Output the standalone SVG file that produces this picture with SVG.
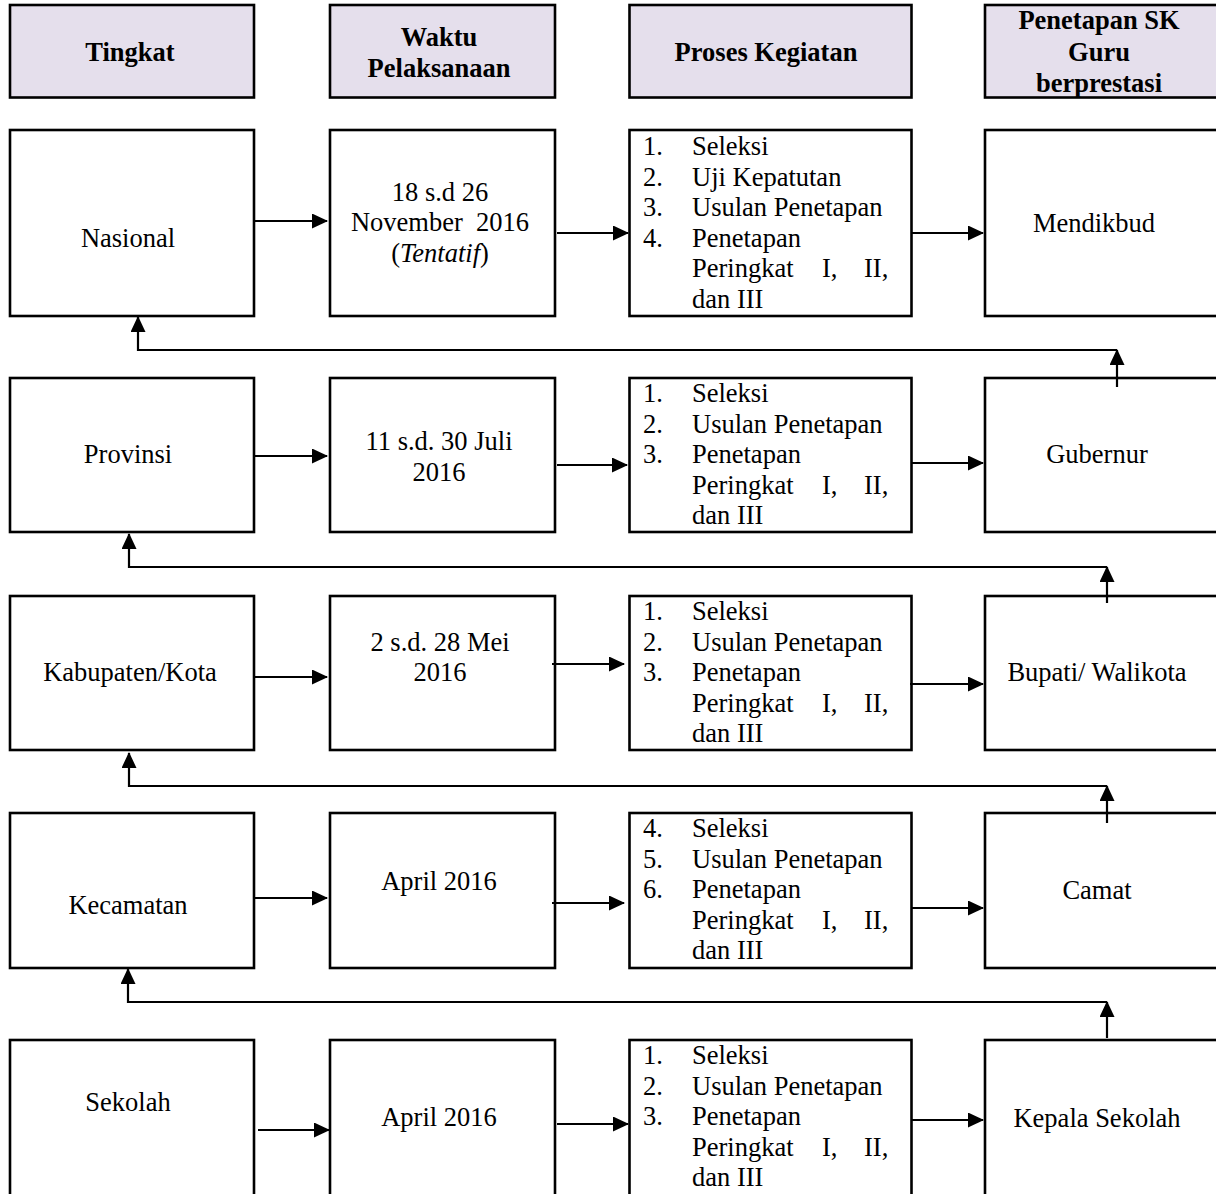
<svg xmlns="http://www.w3.org/2000/svg" width="1216" height="1194" viewBox="0 0 1216 1194">
<style>
  .box{fill:#fff;stroke:#000;stroke-width:2.6}
  .hdr{fill:#E5DFEC;stroke:#000;stroke-width:2.6}
  text{font-family:"Liberation Serif","Times New Roman",serif;font-size:26.5px;fill:#000}
  .c{text-anchor:middle}
  .b{font-weight:bold}
  .ln{fill:none;stroke:#000;stroke-width:2.2;marker-end:url(#ah)}
  .hl{fill:none;stroke:#000;stroke-width:2.2}
</style>
<defs>
  <marker id="ah" markerWidth="16" markerHeight="15" refX="15" refY="7.5" orient="auto" markerUnits="userSpaceOnUse">
    <path d="M0,0 L16,7.5 L0,15 Z" fill="#000"/>
  </marker>
</defs>

<g id="header">
  <g id="h-tingkat"><rect class="hdr" x="10" y="5" width="244" height="92.5"/><text class="c b" x="130" y="61">Tingkat</text></g>
  <g id="h-waktu"><rect class="hdr" x="330" y="5" width="225" height="92.5"/><text class="c b" x="439" y="46">Waktu</text><text class="c b" x="439" y="77">Pelaksanaan</text></g>
  <g id="h-proses"><rect class="hdr" x="629.5" y="5" width="282" height="92.5"/><text class="c b" x="766" y="61">Proses Kegiatan</text></g>
  <g id="h-sk"><rect class="hdr" x="985" y="5" width="240" height="92.5"/><text class="c b" x="1099" y="29">Penetapan SK</text><text class="c b" x="1099" y="61">Guru</text><text class="c b" x="1099" y="92">berprestasi</text></g>
</g>

<g id="row-nasional">
  <g id="n-tingkat"><rect class="box" x="10" y="130" width="244" height="186"/><text class="c" x="128" y="247">Nasional</text></g>
  <g id="n-waktu"><rect class="box" x="330" y="130" width="225" height="186"/><text class="c" x="440" y="201">18 s.d 26</text><text class="c" x="440" y="231" xml:space="preserve">November  2016</text><text class="c" x="440" y="262">(<tspan font-style="italic">Tentatif</tspan>)</text></g>
  <g id="n-proses"><rect class="box" x="629.5" y="130" width="282" height="186"/>
    <text x="643" y="155">1.</text><text x="692" y="155">Seleksi</text>
    <text x="643" y="185.5">2.</text><text x="692" y="185.5">Uji Kepatutan</text>
    <text x="643" y="216">3.</text><text x="692" y="216">Usulan Penetapan</text>
    <text x="643" y="246.5">4.</text><text x="692" y="246.5">Penetapan</text>
    <text y="277"><tspan x="692">Peringkat</tspan><tspan x="822">I,</tspan><tspan x="864">II,</tspan></text>
    <text x="692" y="307.5">dan III</text>
  </g>
  <g id="n-sk"><rect class="box" x="985" y="130" width="240" height="186"/><text class="c" x="1094" y="232">Mendikbud</text></g>
</g>

<g id="row-provinsi">
  <g id="p-tingkat"><rect class="box" x="10" y="378" width="244" height="154"/><text class="c" x="128" y="463">Provinsi</text></g>
  <g id="p-waktu"><rect class="box" x="330" y="378" width="225" height="154"/><text class="c" x="439" y="450">11 s.d. 30 Juli</text><text class="c" x="439" y="481">2016</text></g>
  <g id="p-proses"><rect class="box" x="629.5" y="378" width="282" height="154"/>
    <text x="643" y="402">1.</text><text x="692" y="402">Seleksi</text>
    <text x="643" y="432.5">2.</text><text x="692" y="432.5">Usulan Penetapan</text>
    <text x="643" y="463">3.</text><text x="692" y="463">Penetapan</text>
    <text y="493.5"><tspan x="692">Peringkat</tspan><tspan x="822">I,</tspan><tspan x="864">II,</tspan></text>
    <text x="692" y="524">dan III</text>
  </g>
  <g id="p-sk"><rect class="box" x="985" y="378" width="240" height="154"/><text class="c" x="1097" y="463">Gubernur</text></g>
</g>

<g id="row-kabupaten">
  <g id="k-tingkat"><rect class="box" x="10" y="596" width="244" height="154"/><text class="c" x="130" y="681">Kabupaten/Kota</text></g>
  <g id="k-waktu"><rect class="box" x="330" y="596" width="225" height="154"/><text class="c" x="440" y="651">2 s.d. 28 Mei</text><text class="c" x="440" y="681">2016</text></g>
  <g id="k-proses"><rect class="box" x="629.5" y="596" width="282" height="154"/>
    <text x="643" y="620">1.</text><text x="692" y="620">Seleksi</text>
    <text x="643" y="650.5">2.</text><text x="692" y="650.5">Usulan Penetapan</text>
    <text x="643" y="681">3.</text><text x="692" y="681">Penetapan</text>
    <text y="711.5"><tspan x="692">Peringkat</tspan><tspan x="822">I,</tspan><tspan x="864">II,</tspan></text>
    <text x="692" y="742">dan III</text>
  </g>
  <g id="k-sk"><rect class="box" x="985" y="596" width="240" height="154"/><text class="c" x="1097" y="681">Bupati/ Walikota</text></g>
</g>

<g id="row-kecamatan">
  <g id="c-tingkat"><rect class="box" x="10" y="813" width="244" height="155"/><text class="c" x="128" y="914">Kecamatan</text></g>
  <g id="c-waktu"><rect class="box" x="330" y="813" width="225" height="155"/><text class="c" x="439" y="890">April 2016</text></g>
  <g id="c-proses"><rect class="box" x="629.5" y="813" width="282" height="155"/>
    <text x="643" y="837">4.</text><text x="692" y="837">Seleksi</text>
    <text x="643" y="867.5">5.</text><text x="692" y="867.5">Usulan Penetapan</text>
    <text x="643" y="898">6.</text><text x="692" y="898">Penetapan</text>
    <text y="928.5"><tspan x="692">Peringkat</tspan><tspan x="822">I,</tspan><tspan x="864">II,</tspan></text>
    <text x="692" y="959">dan III</text>
  </g>
  <g id="c-sk"><rect class="box" x="985" y="813" width="240" height="155"/><text class="c" x="1097" y="899">Camat</text></g>
</g>

<g id="row-sekolah">
  <g id="s-tingkat"><rect class="box" x="10" y="1040" width="244" height="170"/><text class="c" x="128" y="1111">Sekolah</text></g>
  <g id="s-waktu"><rect class="box" x="330" y="1040" width="225" height="170"/><text class="c" x="439" y="1126">April 2016</text></g>
  <g id="s-proses"><rect class="box" x="629.5" y="1040" width="282" height="170"/>
    <text x="643" y="1064">1.</text><text x="692" y="1064">Seleksi</text>
    <text x="643" y="1094.5">2.</text><text x="692" y="1094.5">Usulan Penetapan</text>
    <text x="643" y="1125">3.</text><text x="692" y="1125">Penetapan</text>
    <text y="1155.5"><tspan x="692">Peringkat</tspan><tspan x="822">I,</tspan><tspan x="864">II,</tspan></text>
    <text x="692" y="1186">dan III</text>
  </g>
  <g id="s-sk"><rect class="box" x="985" y="1040" width="240" height="170"/><text class="c" x="1097" y="1127">Kepala Sekolah</text></g>
</g>

<g id="connectors">
  <path class="ln" d="M255,221 H327"/>
  <path class="ln" d="M557,233 H628"/>
  <path class="ln" d="M912,233 H983"/>
  <path class="ln" d="M255,456 H327"/>
  <path class="ln" d="M557,465 H627"/>
  <path class="ln" d="M912,463 H983"/>
  <path class="ln" d="M255,677 H327"/>
  <path class="ln" d="M552,664 H624"/>
  <path class="ln" d="M910,684 H983"/>
  <path class="ln" d="M255,898 H327"/>
  <path class="ln" d="M552,903 H624"/>
  <path class="ln" d="M912,908 H983"/>
  <path class="ln" d="M258,1130 H329"/>
  <path class="ln" d="M557,1124 H628"/>
  <path class="ln" d="M911,1120 H983"/>

  <path class="ln" d="M1117,387 V350"/>
  <path class="ln" d="M1117,350 H138 V317"/>
  <path class="ln" d="M1107,603 V567"/>
  <path class="ln" d="M1107,567 H129 V534"/>
  <path class="ln" d="M1107,823 V786"/>
  <path class="ln" d="M1107,786 H129 V753"/>
  <path class="ln" d="M1107,1038 V1002"/>
  <path class="ln" d="M1107,1002 H128 V969"/>
</g>
</svg>
